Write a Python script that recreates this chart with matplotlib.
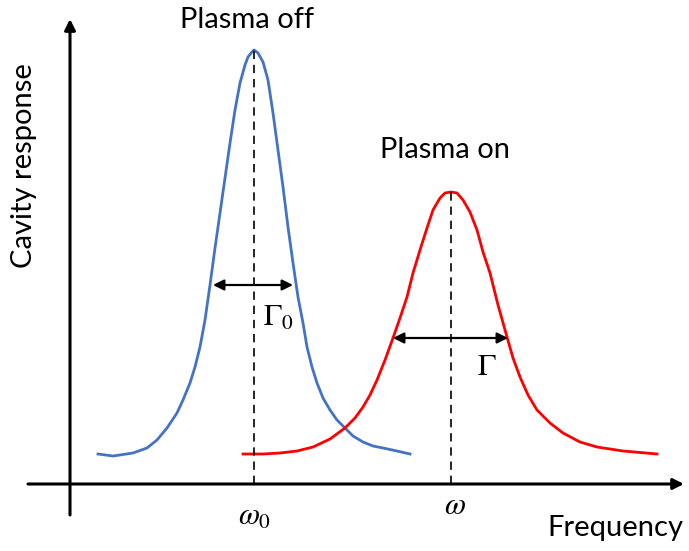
import matplotlib.pyplot as plt

# curves (frequency, response), arbitrary units
off_freq = [0.28, 0.43, 0.63, 0.77, 0.87, 0.97, 1.07, 1.13, 1.20, 1.25, 1.30, 1.35, 1.40,
            1.45, 1.50, 1.55, 1.60, 1.65, 1.70, 1.75, 1.78, 1.82, 1.84, 1.88, 1.93, 1.98,
            2.03, 2.08, 2.13, 2.18, 2.23, 2.28, 2.33, 2.37, 2.42, 2.47, 2.53, 2.60, 2.67,
            2.75, 2.83, 2.93, 3.03, 3.13, 3.27, 3.40]
off_resp = [0.30, 0.28, 0.31, 0.36, 0.44, 0.56, 0.71, 0.84, 1.01, 1.17, 1.37, 1.64, 1.99,
            2.36, 2.71, 3.06, 3.41, 3.74, 4.01, 4.19, 4.27, 4.32, 4.34, 4.31, 4.22, 4.04,
            3.71, 3.34, 2.97, 2.57, 2.21, 1.87, 1.61, 1.37, 1.17, 1.01, 0.86, 0.74, 0.64,
            0.56, 0.48, 0.42, 0.38, 0.36, 0.33, 0.30]

on_freq = [1.73, 1.93, 2.10, 2.27, 2.43, 2.60, 2.75, 2.85, 2.93, 3.00, 3.07, 3.15, 3.23,
           3.30, 3.37, 3.43, 3.50, 3.57, 3.63, 3.70, 3.75, 3.81, 3.87, 3.93, 4.00, 4.07,
           4.13, 4.20, 4.28, 4.37, 4.43, 4.50, 4.58, 4.67, 4.80, 4.93, 5.10, 5.27, 5.53,
           5.87]
on_resp = [0.30, 0.30, 0.31, 0.33, 0.37, 0.45, 0.56, 0.66, 0.77, 0.89, 1.04, 1.24, 1.46,
           1.66, 1.87, 2.11, 2.34, 2.56, 2.74, 2.86, 2.91, 2.92, 2.91, 2.84, 2.72, 2.54,
           2.32, 2.11, 1.79, 1.47, 1.26, 1.07, 0.89, 0.74, 0.61, 0.51, 0.42, 0.37, 0.33,
           0.30]

f_off = 1.84   # resonance, plasma off
f_on = 3.81    # resonance, plasma on
peak_off = 4.34
peak_on = 2.92
width_off = [1.43, 2.23]   # Gamma_0 arrow ends
width_off_y = 1.99
width_on = [3.23, 4.38]    # Gamma arrow ends
width_on_y = 1.46

plt.rcParams['font.family'] = ['Lato', 'DejaVu Sans']
plt.rcParams['mathtext.fontset'] = 'stix'

fig = plt.figure(figsize=(6.89, 5.51), dpi=100)
ax = fig.add_axes([0, 0, 1, 1])
ax.set_xlim(-0.70, 6.19)
ax.set_ylim(-0.67, 4.84)
ax.axis('off')

# axes drawn as arrows
ax.annotate('', xy=(6.14, 0), xytext=(-0.42, 0),
            arrowprops=dict(arrowstyle='-|>', lw=2.2, color='black', mutation_scale=16,
                            shrinkA=0, shrinkB=0))
ax.annotate('', xy=(0, 4.65), xytext=(0, -0.31),
            arrowprops=dict(arrowstyle='-|>', lw=2.2, color='black', mutation_scale=16,
                            shrinkA=0, shrinkB=0))

ax.plot(off_freq, off_resp, color='#4472C4', lw=2.0, solid_joinstyle='round')
ax.plot(on_freq, on_resp, color='#FF0000', lw=2.0, solid_joinstyle='round')

ax.plot([f_off, f_off], [0, peak_off], color='black', lw=1.2, ls=(0, (5, 3.5)))
ax.plot([f_on, f_on], [0, peak_on], color='black', lw=1.2, ls=(0, (5, 3.5)))

for (x0, x1), y in [(width_off, width_off_y), (width_on, width_on_y)]:
    ax.annotate('', xy=(x1, y), xytext=(x0, y),
                arrowprops=dict(arrowstyle='<|-|>', lw=1.6, color='black', mutation_scale=16,
                                shrinkA=0, shrinkB=0))

ax.text(1.775, 4.56, 'Plasma off', fontsize=21, ha='center', va='baseline')
ax.text(3.75, 3.26, 'Plasma on', fontsize=21, ha='center', va='baseline')
ax.text(-0.46, 3.18, 'Cavity response', fontsize=21, ha='center', va='center', rotation=90)
ax.text(5.45, -0.44, 'Frequency', fontsize=21, ha='center', va='center')

ax.text(2.08, 1.66, r'$\Gamma_0$', fontsize=22, ha='center', va='center')
ax.text(4.17, 1.18, r'$\Gamma$', fontsize=22, ha='center', va='center')
ax.text(1.85, -0.33, r'$\omega_0$', fontsize=22, ha='center', va='center')
ax.text(3.85, -0.21, r'$\omega$', fontsize=22, ha='center', va='center')

fig.savefig('out.png', dpi=100)
